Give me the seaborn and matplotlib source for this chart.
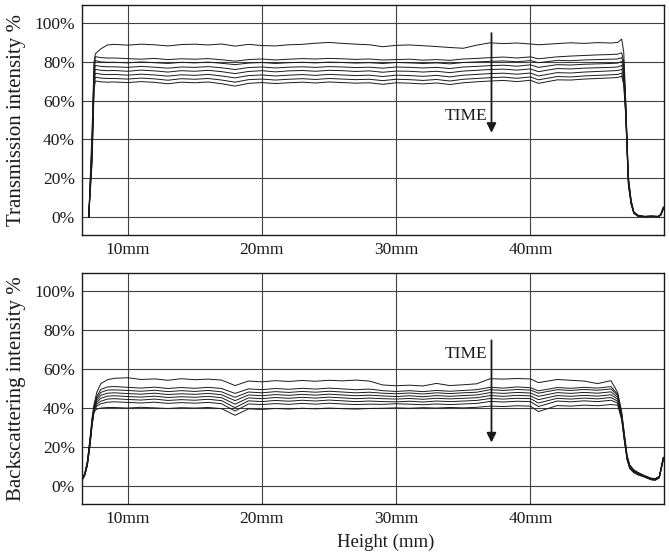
import numpy as np
import pandas as pd
import matplotlib
matplotlib.use("Agg")
import matplotlib.pyplot as plt
import seaborn as sns

# ---------------- data ----------------
x_ticks = [10, 20, 30, 40]
x_tick_labels = ["10mm", "20mm", "30mm", "40mm"]
y_ticks = [0, 20, 40, 60, 80, 100]
y_tick_labels = ["0%", "20%", "40%", "60%", "80%", "100%"]

# Transmission (top panel) — shared height positions (mm)
xT = [7.1, 7.35, 7.5, 7.6, 8.0, 8.5,
      9, 10, 11, 12, 13, 14, 15, 16, 17, 18, 19, 20, 21, 22, 23, 24, 25, 26, 27, 28,
      29, 30, 31, 32, 33, 34, 35, 36, 37, 38, 39, 40, 40.6, 42, 43, 44, 45, 46,
      46.5, 46.8, 46.95, 47.1, 47.2, 47.3, 47.5, 47.7, 48.0, 48.5, 49.0, 49.5, 49.7, 49.9]

T1 = [0, 45, 80, 84, 86.5, 88.5,
      88.8, 88.4, 88.9, 88.6, 88.0, 88.7, 88.9, 88.5, 89.0, 87.9, 88.8, 88.2, 88.0, 88.6, 88.8, 89.4, 89.8, 89.3, 88.9, 88.6,
      87.6, 88.3, 88.5, 88.1, 87.7, 87.2, 86.8, 88.4, 89.6, 89.2, 89.5, 89.0, 88.6, 89.2, 89.6, 89.3, 89.7, 89.5,
      89.8, 91.5, 85, 60, 40, 21, 9, 3, 1.2, 0.6, 0.8, 0.5, 1.5, 5.5]
T2 = [0, 40, 78, 82.5, 82.0, 81.8,
      81.8, 81.5, 81.2, 81.6, 81.0, 81.4, 81.2, 81.5, 80.9, 80.2, 81.0, 81.3, 80.8, 81.2, 81.5, 81.3, 81.6, 81.4, 81.1, 81.3,
      80.8, 81.0, 81.2, 80.7, 81.0, 80.6, 81.3, 81.6, 82.0, 82.3, 81.8, 82.4, 81.4, 82.4, 82.8, 83.1, 83.4, 83.6,
      83.8, 84.5, 80, 58, 39, 20, 8.5, 2.8, 1.0, 0.5, 0.7, 0.6, 1.4, 5.2]
T3 = [0, 38, 76, 80.5, 79.8, 79.6,
      79.6, 79.3, 79.8, 79.4, 79.0, 79.6, 79.3, 79.7, 79.1, 78.4, 79.2, 79.5, 79.0, 79.4, 79.6, 79.3, 79.7, 79.5, 79.2, 79.4,
      79.0, 79.5, 79.3, 79.0, 79.3, 78.8, 79.5, 79.8, 80.1, 80.3, 79.9, 80.5, 79.4, 80.6, 80.4, 80.8, 81.0, 81.2,
      81.3, 82.0, 78, 57, 38, 19, 8, 2.6, 0.9, 0.5, 0.6, 0.5, 1.3, 5.0]
T4 = [0, 36, 74, 78, 77.5, 77.3,
      77.3, 77.0, 77.5, 77.1, 76.6, 77.2, 77.0, 77.4, 76.8, 75.9, 76.9, 77.2, 76.7, 77.1, 77.3, 77.0, 77.4, 77.2, 76.9, 77.1,
      76.6, 77.2, 77.0, 76.7, 77.0, 76.4, 77.2, 77.5, 77.9, 78.1, 77.6, 78.3, 77.0, 78.4, 78.2, 78.6, 78.8, 79.0,
      79.2, 80.0, 76, 56, 37, 18.5, 7.8, 2.5, 0.9, 0.4, 0.6, 0.5, 1.2, 4.8]
T5 = [0, 34, 72, 76, 75.5, 75.3,
      75.4, 75.0, 75.6, 75.2, 74.6, 75.3, 75.0, 75.5, 74.8, 73.8, 74.9, 75.3, 74.7, 75.2, 75.4, 75.0, 75.5, 75.3, 74.9, 75.2,
      74.5, 75.1, 75.0, 74.6, 75.0, 74.3, 75.1, 75.5, 75.9, 76.1, 75.6, 76.2, 74.8, 76.4, 76.2, 76.6, 76.8, 77.0,
      77.2, 78.0, 74, 55, 36, 18, 7.5, 2.4, 0.8, 0.4, 0.5, 0.4, 1.2, 4.6]
T6 = [0, 32, 70, 74, 73.5, 73.3,
      73.4, 73.0, 73.5, 73.1, 72.5, 73.2, 72.9, 73.4, 72.6, 71.6, 72.8, 73.1, 72.6, 73.0, 73.3, 72.9, 73.4, 73.1, 72.8, 73.0,
      72.3, 73.0, 72.8, 72.4, 72.9, 72.1, 73.0, 73.4, 73.8, 74.0, 73.5, 74.1, 72.6, 74.3, 74.1, 74.6, 74.9, 75.2,
      75.4, 76.0, 72, 54, 35, 17.5, 7.3, 2.3, 0.8, 0.4, 0.5, 0.4, 1.1, 4.5]
T7 = [0, 30, 68, 72, 71.5, 71.3,
      71.3, 71.0, 71.5, 71.1, 70.4, 71.2, 70.9, 71.3, 70.5, 69.4, 70.7, 71.0, 70.5, 70.9, 71.2, 70.8, 71.3, 71.0, 70.7, 70.9,
      70.2, 70.9, 70.7, 70.3, 70.8, 70.0, 70.9, 71.3, 71.7, 72.0, 71.4, 72.1, 70.6, 72.3, 72.1, 72.6, 72.9, 73.2,
      73.4, 74.0, 70, 53, 34, 17, 7, 2.2, 0.7, 0.3, 0.5, 0.4, 1.1, 4.4]
T8 = [0, 28, 66, 70, 69.6, 69.4,
      69.5, 69.2, 69.7, 69.3, 68.6, 69.4, 69.1, 69.5, 68.6, 67.4, 68.8, 69.2, 68.7, 69.1, 69.4, 69.0, 69.5, 69.2, 68.9, 69.1,
      68.3, 69.1, 68.9, 68.5, 69.0, 68.2, 69.1, 69.6, 70.0, 70.3, 69.7, 70.4, 68.8, 70.6, 70.5, 71.0, 71.3, 71.6,
      71.8, 72.5, 68, 52, 33, 16.5, 6.8, 2.1, 0.7, 0.3, 0.4, 0.3, 1.0, 4.3]

# Backscattering (bottom panel)
xB = [6.6, 6.8, 7.0, 7.2, 7.35, 7.5, 7.7, 8.0, 8.5,
      9, 10, 11, 12, 13, 14, 15, 16, 17, 18, 19, 20, 21, 22, 23, 24, 25, 26, 27, 28,
      29, 30, 31, 32, 33, 34, 35, 36, 37, 38, 39, 40, 40.6, 42, 43, 44, 45, 46,
      46.5, 46.8, 47.0, 47.2, 47.4, 47.7, 48.0, 48.5, 49.0, 49.3, 49.6, 49.9]

B1 = [3.8, 6.5, 13, 25, 35, 42, 48, 52.5, 54.5,
      55.2, 55.5, 54.6, 54.9, 54.2, 55.0, 54.5, 54.8, 54.3, 51.5, 53.8, 53.4, 54.0, 53.6, 54.1, 53.7, 54.2, 53.9, 54.3, 53.8,
      51.8, 51.4, 51.7, 51.3, 52.6, 51.5, 51.9, 52.4, 55.0, 54.8, 55.1, 54.9, 53.0, 54.6, 54.2, 53.8, 52.5, 54.0,
      48, 38, 27, 16, 11, 8.5, 7.2, 5.5, 4.2, 4.0, 5.2, 15]
B2 = [3.7, 6.3, 12.5, 24, 34, 41, 46, 49.5, 50.8,
      51.0, 50.6, 50.2, 50.7, 50.0, 50.5, 50.1, 50.6, 50.0, 47.5, 49.8, 49.4, 50.0, 49.6, 50.1, 49.7, 50.2, 49.8, 49.4, 49.7,
      48.9, 48.5, 48.9, 48.4, 49.0, 48.6, 49.0, 49.4, 50.6, 50.2, 50.8, 50.4, 48.8, 50.5, 50.1, 50.6, 50.2, 51.0,
      47, 37, 26, 15.5, 10.5, 8.2, 7.0, 5.4, 4.0, 3.8, 5.0, 14.8]
B3 = [3.6, 6.2, 12, 23.5, 33.5, 40.5, 45, 48, 49.2,
      49.3, 49.0, 48.6, 49.1, 48.4, 48.9, 48.5, 49.0, 48.3, 45.5, 48.2, 47.8, 48.4, 48.0, 48.5, 48.1, 48.6, 48.2, 47.8, 48.1,
      47.6, 47.3, 47.7, 47.2, 47.8, 47.4, 47.8, 48.1, 49.4, 49.0, 49.5, 49.2, 47.6, 49.4, 49.0, 49.5, 49.1, 49.8,
      46.5, 36.5, 25.5, 15, 10.2, 8.0, 6.8, 5.3, 3.9, 3.7, 4.9, 14.6]
B4 = [3.5, 6.0, 11.8, 23, 33, 40, 44, 46.5, 47.6,
      47.8, 47.4, 47.1, 47.6, 46.9, 47.3, 47.0, 47.5, 46.8, 43.8, 46.7, 46.3, 46.9, 46.5, 47.0, 46.6, 47.1, 46.7, 46.3, 46.6,
      46.2, 45.9, 46.3, 45.8, 46.4, 46.0, 46.4, 46.7, 47.9, 47.5, 48.0, 47.7, 46.0, 47.9, 47.5, 48.0, 47.6, 48.3,
      45.5, 36, 25, 14.8, 10, 7.8, 6.6, 5.2, 3.8, 3.6, 4.8, 14.4]
B5 = [3.4, 5.9, 11.5, 22.5, 32.5, 39.5, 43, 45, 46.1,
      46.3, 45.9, 45.6, 46.1, 45.4, 45.8, 45.5, 46.0, 45.3, 42.0, 45.2, 44.8, 45.4, 45.0, 45.5, 45.1, 45.6, 45.2, 44.8, 45.1,
      44.8, 44.6, 44.9, 44.5, 45.0, 44.7, 45.0, 45.3, 46.4, 46.0, 46.5, 46.2, 44.3, 46.4, 46.0, 46.5, 46.1, 46.8,
      44.5, 35.5, 24.5, 14.5, 9.8, 7.6, 6.5, 5.1, 3.7, 3.5, 4.7, 14.2]
B6 = [3.3, 5.8, 11.2, 22, 32, 39, 42, 43.5, 44.6,
      44.8, 44.4, 44.1, 44.6, 43.9, 44.3, 44.0, 44.5, 43.8, 40.2, 43.7, 43.3, 43.9, 43.5, 44.0, 43.6, 44.1, 43.7, 43.3, 43.6,
      43.3, 43.2, 43.5, 43.1, 43.6, 43.3, 43.6, 43.9, 44.9, 44.6, 45.0, 44.8, 42.6, 45.0, 44.6, 45.1, 44.7, 45.4,
      43.5, 35, 24, 14.2, 9.6, 7.4, 6.3, 5.0, 3.6, 3.4, 4.6, 14.0]
B7 = [3.2, 5.6, 11, 21.5, 31.5, 38.5, 41, 42.2, 43.0,
      43.2, 42.9, 42.6, 43.0, 42.4, 42.8, 42.5, 42.9, 42.2, 38.5, 42.1, 41.8, 42.3, 41.9, 42.4, 42.0, 42.5, 42.1, 41.8, 42.0,
      41.9, 42.2, 42.0, 41.7, 42.1, 41.8, 42.1, 42.4, 43.4, 43.1, 43.5, 43.3, 40.8, 43.6, 43.2, 43.7, 43.3, 44.0,
      42.5, 34.5, 23.5, 14, 9.4, 7.2, 6.1, 4.9, 3.5, 3.3, 4.5, 13.8]
B8 = [3.0, 5.4, 10.5, 21, 31, 38, 39.5, 40.0, 40.3,
      40.3, 40.0, 40.4, 40.1, 39.8, 40.2, 40.0, 40.3, 39.7, 36.3, 39.6, 39.3, 39.8, 39.5, 39.9, 39.6, 40.0, 39.7, 39.5, 39.8,
      39.9, 40.1, 39.9, 40.2, 40.0, 40.3, 40.1, 40.4, 41.0, 40.8, 41.2, 41.0, 38.2, 41.3, 41.0, 41.5, 41.2, 41.8,
      41.5, 34, 23, 13.5, 9.0, 7.0, 5.9, 4.7, 3.3, 3.1, 4.3, 13.5]

trans_series = [T1, T2, T3, T4, T5, T6, T7, T8]
back_series = [B1, B2, B3, B4, B5, B6, B7, B8]

# ---------------- build long tables ----------------
def long_table(xs, series):
    frames = []
    for i, ys in enumerate(series):
        frames.append(pd.DataFrame({"x": xs, "y": ys, "curve": f"c{i}"}))
    return pd.concat(frames, ignore_index=True)

dfT = long_table(xT, trans_series)
dfB = long_table(xB, back_series)

# ---------------- style ----------------
sns.set_theme(style="white")
plt.rcParams["font.family"] = ["Liberation Serif", "DejaVu Serif"]

fig = plt.figure(figsize=(6.69, 5.58), dpi=100)
axT = fig.add_axes([82 / 669, 1 - 235 / 558, 582 / 669, 230 / 558])
axB = fig.add_axes([82 / 669, 1 - 504 / 558, 582 / 669, 231 / 558])

line_color = "#1a1a1a"
for ax, df, ylabel in [(axT, dfT, "Transmission intensity %"),
                       (axB, dfB, "Backscattering intensity %")]:
    sns.lineplot(data=df, x="x", y="y", hue="curve", palette=[line_color] * 8,
                 legend=False, linewidth=0.7, estimator=None, sort=False, ax=ax)
    ax.set_xlim(6.6, 49.95)
    ax.set_ylim(-9, 109)
    ax.set_xticks(x_ticks)
    ax.set_xticklabels(x_tick_labels, fontsize=12.5)
    ax.set_yticks(y_ticks)
    ax.set_yticklabels(y_tick_labels, fontsize=12.5)
    ax.grid(True, color="#404040", linewidth=0.8)
    ax.set_axisbelow(True)
    ax.tick_params(length=0, pad=5, colors="#1a1a1a")
    for sp in ax.spines.values():
        sp.set_color("#1a1a1a")
        sp.set_linewidth(1.0)
    ax.set_ylabel(ylabel, fontsize=15, labelpad=6, color="#1a1a1a")
    ax.set_xlabel("")

axB.set_xlabel("Height (mm)", fontsize=13.5, color="#1a1a1a")
axB.xaxis.set_label_coords(0.522, -0.128)

# TIME arrows
arrow = dict(arrowstyle="-|>", color="#1a1a1a", linewidth=1.3, mutation_scale=14)
axT.annotate("", xy=(37.1, 42), xytext=(37.1, 96), arrowprops=arrow)
axT.text(36.8, 52, "TIME", ha="right", va="center", fontsize=12.5, color="#1a1a1a")
axB.annotate("", xy=(37.1, 21), xytext=(37.1, 76), arrowprops=arrow)
axB.text(36.8, 67.5, "TIME", ha="right", va="center", fontsize=12.5, color="#1a1a1a")

fig.savefig("out.png", dpi=100)
